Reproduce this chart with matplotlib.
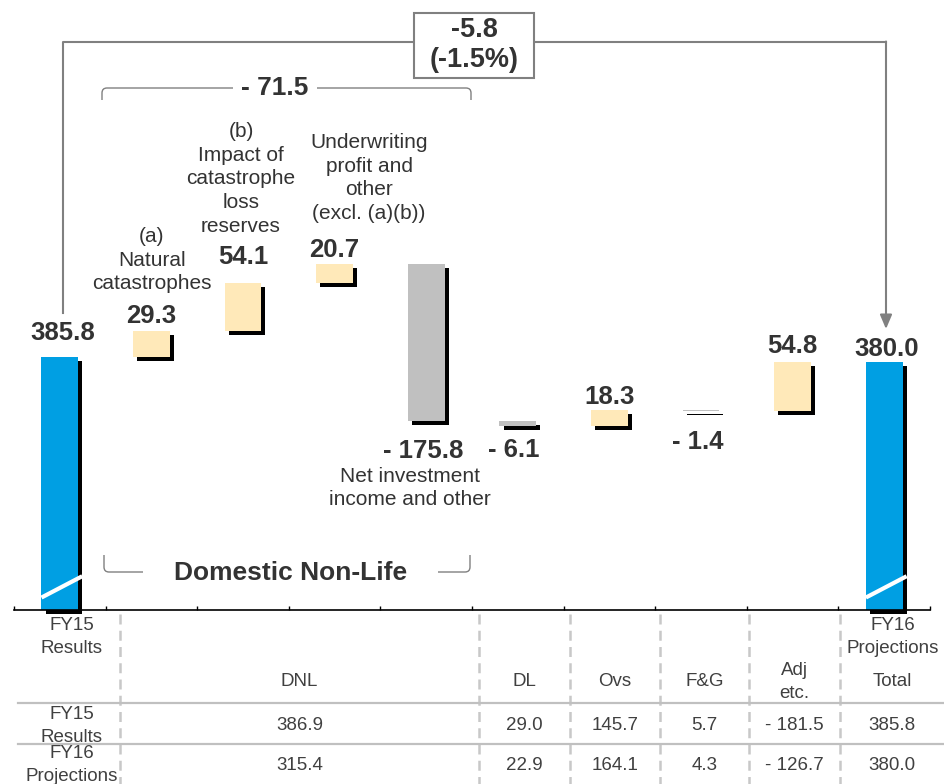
import matplotlib.pyplot as plt
import matplotlib.patheffects as pe
import matplotlib.transforms as mtransforms
from matplotlib.lines import Line2D
from matplotlib.path import Path
from matplotlib.patches import PathPatch, Rectangle
import numpy as np

plt.rcParams['font.family'] = ['Liberation Sans', 'DejaVu Sans']

# FY15 result -> FY16 projection bridge
start_value = 385.8
end_value = 380.0
changes = [29.3, 54.1, 20.7, -175.8, -6.1, 18.3, -1.4, 54.8]
total_change = '-5.8\n(-1.5%)'
dnl_change = '- 71.5'
captions = ['(a)\nNatural\ncatastrophes',
            '(b)\nImpact of\ncatastrophe\nloss\nreserves',
            'Underwriting\nprofit and\nother\n(excl. (a)(b))',
            'Net investment\nincome and other']

# breakdown table
segments = ['DNL', 'DL', 'Ovs', 'F&G', 'Adj\netc.', 'Total']
fy15_values = [386.9, 29.0, 145.7, 5.7, -181.5, 385.8]
fy16_values = [315.4, 22.9, 164.1, 4.3, -126.7, 380.0]

BLUE = '#009FE3'
CREAM = '#FFE9B9'
GREY = '#C0C0C0'
TEXT = '#333333'
LINE = '#808080'


def fmt(v):
    return f'- {abs(v):.1f}' if v < 0 else f'{v:.1f}'


W, H = 944, 784
fig = plt.figure(figsize=(W / 100, H / 100), dpi=100)
# pixel coordinates, origin top-left, for the decorations and table
px = mtransforms.Affine2D().scale(1 / W, -1 / H).translate(0, 1) + fig.transFigure

ax = fig.add_axes([14 / W, 1 - 610 / H, 916 / W, 610 / H])
base = 101.2          # value at the (broken) axis line
scale = 0.889         # pixels per unit
ax.set_ylim(base, base + 610 / scale)
ax.set_xlim(-0.5, 9.5)
for s in ['top', 'left', 'right']:
    ax.spines[s].set_visible(False)
ax.spines['bottom'].set_linewidth(1.2)
ax.spines['bottom'].set_zorder(6)
ax.set_yticks([])
ax.set_xticks(np.arange(-0.5, 10, 1))
ax.tick_params(axis='x', direction='in', length=3, width=1, labelbottom=False)

shadow = [pe.SimplePatchShadow(offset=(2.9, -2.9), shadow_rgbFace='black', alpha=1.0),
          pe.Normal()]

levels = start_value + np.concatenate([[0], np.cumsum(changes)])
bottoms = np.minimum(levels[:-1], levels[1:])
heights = np.abs(changes)
colors = [CREAM if c > 0 else GREY for c in changes]
xs = np.arange(1, len(changes) + 1)

ax.bar([0, 9], [start_value - base, end_value - base], bottom=base, width=0.4,
       color=BLUE, path_effects=shadow, clip_on=False, zorder=3)
ax.bar(xs, heights, bottom=bottoms, width=0.4, color=colors,
       path_effects=shadow, zorder=3)

# axis break marks
for i in (0, 9):
    ax.plot([i - 0.2, i + 0.245], [base + 14, base + 38], color='white', lw=3,
            solid_capstyle='butt', zorder=7, clip_on=False)

# value labels (offsets in pixels)
bold = dict(fontsize=18.5, fontweight='bold', color=TEXT, ha='center')
ax.annotate(fmt(start_value), (0, start_value), xytext=(3 * 0.72, 17 * 0.72),
            textcoords='offset points', va='baseline', **bold)
ax.annotate(fmt(end_value), (9, end_value), xytext=(2 * 0.72, 6 * 0.72),
            textcoords='offset points', va='baseline', **bold)
offsets = [(0, 8), (0, 19), (0, 7), (-3, 18), (-4, 12), (0, 6), (-3, 19), (0, 9)]
for x, c, b, h, (dx, dy) in zip(xs, changes, bottoms, heights, offsets):
    if c > 0:
        ax.annotate(fmt(c), (x, b + h), xytext=(dx * 0.72, dy * 0.72),
                    textcoords='offset points', va='baseline', **bold)
    else:
        ax.annotate(fmt(c), (x, b), xytext=(dx * 0.72, -dy * 0.72),
                    textcoords='offset points', va='top', **bold)

# captions
cap = dict(fontsize=15, color=TEXT, ha='center', va='center', linespacing=1.31,
           transform=px)
fig.text(152, 260, captions[0], **cap)
fig.text(241, 179, captions[1], **cap)
fig.text(369, 178, captions[2], **cap)
fig.text(410, 488, captions[3], **cap)

# overall change connector
fig.add_artist(Line2D([63, 63, 886], [313, 42, 42], color=LINE, lw=1.5,
                      transform=px))
ax.annotate('', xy=(886, 329), xytext=(886, 41.5), xycoords=px, textcoords=px,
            annotation_clip=False,
            arrowprops=dict(arrowstyle='-|>,head_length=0.85,head_width=0.36',
                            mutation_scale=10, color=LINE, lw=1.5,
                            shrinkA=0, shrinkB=0))
fig.add_artist(Rectangle((414, 13), 120, 65, transform=px, facecolor='white',
                         edgecolor=LINE, lw=1.5, zorder=4))
fig.text(474, 45, total_change, fontsize=19.5, fontweight='bold', color=TEXT,
         ha='center', va='center', linespacing=1.2, transform=px, zorder=5)


def bracket(points_list):
    for pts in points_list:
        codes = [Path.MOVETO, Path.LINETO, Path.CURVE3, Path.CURVE3, Path.LINETO]
        fig.add_artist(PathPatch(Path(pts, codes), transform=px, fill=False,
                                 edgecolor=LINE, lw=1.0))


# Domestic Non-Life subtotal bracket
bracket([[(102, 100), (102, 93), (102, 88), (107, 88), (233, 88)],
         [(471, 100), (471, 93), (471, 88), (466, 88), (317, 88)]])
fig.text(275, 88, dnl_change, fontsize=19, fontweight='bold', color=TEXT,
         ha='center', va='center', transform=px)
bracket([[(104, 555), (104, 567), (104, 572), (109, 572), (143, 572)],
         [(470, 555), (470, 567), (470, 572), (465, 572), (438, 572)]])
fig.text(291, 573, 'Domestic Non-Life', fontsize=19, fontweight='bold',
         color=TEXT, ha='center', va='center', transform=px)

# table
tcol = '#404040'
tab = dict(fontsize=13.5, color=tcol, ha='center', va='center', linespacing=1.45,
           transform=px)
col_edges = [120, 479, 570, 660, 749, 840, 944]
for xe in col_edges[:-1]:
    fig.add_artist(Line2D([xe, xe], [614, 784], color='#C8C8C8', lw=1.8,
                          dashes=(4, 2.5), transform=px))
for ye in (703, 744):
    fig.add_artist(Line2D([18, 944], [ye, ye], color='#C0C0C0', lw=1.6,
                          transform=px))
centers = [(a + b) / 2 for a, b in zip(col_edges[:-1], col_edges[1:])]
fig.text(72, 637, 'FY15\nResults', **tab)
fig.text(893, 637, 'FY16\nProjections', **tab)
fig.text(72, 726, 'FY15\nResults', **tab)
fig.text(72, 765, 'FY16\nProjections', **tab)
for cx, name, v15, v16 in zip(centers, segments, fy15_values, fy16_values):
    fig.text(cx, 682, name, **tab)
    fig.text(cx, 726, fmt(v15), **tab)
    fig.text(cx, 766, fmt(v16), **tab)

fig.savefig('out.png', dpi=100)
